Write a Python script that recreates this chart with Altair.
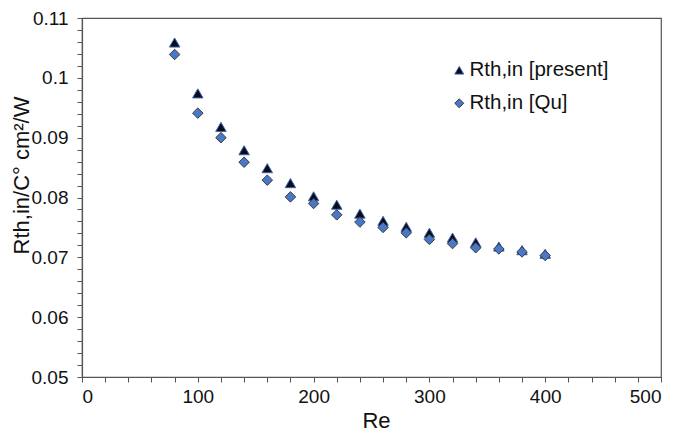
import altair as alt
import pandas as pd

re_vals = [80, 100, 120, 140, 160, 180, 200, 220, 240, 260, 280, 300, 320, 340, 360, 380, 400]
present = [0.1059, 0.0974, 0.0918, 0.0879, 0.0849, 0.0824, 0.0802, 0.0788, 0.0773, 0.0761,
           0.0751, 0.0741, 0.0733, 0.0725, 0.0718, 0.0712, 0.0706]
qu = [0.1039, 0.0941, 0.0900, 0.0859, 0.0829, 0.0801, 0.0790, 0.0771, 0.0759, 0.0750,
      0.0741, 0.0730, 0.0723, 0.0716, 0.0714, 0.0709, 0.0703]
series_names = ["Rth,in [present]", "Rth,in [Qu]"]

x_ticks = list(range(0, 501, 20))
y_ticks = [round(0.05 + 0.002 * i, 3) for i in range(31)]

df = pd.DataFrame({
    "Re": re_vals + re_vals,
    "Rth": present + qu,
    "series": [series_names[0]] * len(re_vals) + [series_names[1]] * len(re_vals),
})

FONT = "Liberation Sans"
legend = alt.Legend(
    title=None, orient="none", legendX=367, legendY=42, padding=0,
    symbolSize=80, symbolStrokeWidth=1, labelFont=FONT, labelFontSize=20.5,
    labelColor="#111111", labelOffset=0, rowPadding=12,
)

chart = alt.Chart(df).mark_point(filled=True, strokeWidth=1, opacity=1, size=110).encode(
    x=alt.X("Re:Q", scale=alt.Scale(domain=[0, 500], nice=False, zero=False),
            axis=alt.Axis(title="Re", values=x_ticks, labelOverlap=False,
                          labelExpr="datum.value % 100 == 0 ? datum.label : ''",
                          labelPadding=5, titleBaseline="alphabetic", titleX=294, titleY=50,
                          titleAlign="center")),
    y=alt.Y("Rth:Q", scale=alt.Scale(domain=[0.05, 0.11], nice=False, zero=False),
            axis=alt.Axis(title="Rth,in/C° cm²/W", values=y_ticks, format="~g", labelOverlap=False,
                          labelExpr="round(datum.value * 1000) % 10 == 0 ? datum.label : ''",
                          labelPadding=9, titleAngle=270, titleBaseline="alphabetic",
                          titleX=-54, titleY=157, titleAlign="center")),
    shape=alt.Shape("series:N", scale=alt.Scale(domain=series_names, range=["triangle-up", "diamond"]),
                    legend=legend),
    fill=alt.Fill("series:N", scale=alt.Scale(domain=series_names, range=["#0b0b1c", "#4a78c8"]),
                  legend=legend),
    stroke=alt.Stroke("series:N", scale=alt.Scale(domain=series_names, range=["#3d66b0", "#3a3a3a"]),
                      legend=legend),
).properties(
    width=579, height=359,
    autosize=alt.AutoSizeParams(type="none"),
    padding={"left": 74, "top": 10, "right": 16, "bottom": 55},
).configure_view(
    stroke="#555555", strokeWidth=1.2
).configure_axis(
    grid=False, domainColor="#555555", domainWidth=1.2, tickColor="#555555", tickWidth=1,
    tickSize=5, labelFont=FONT, labelFontSize=19, labelColor="#111111",
    titleFont=FONT, titleFontSize=22, titleFontWeight="normal", titleColor="#111111",
)

chart.save("out.html", embed_options={"renderer": "svg", "actions": False})
